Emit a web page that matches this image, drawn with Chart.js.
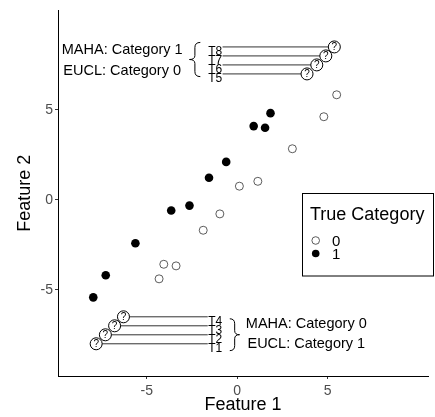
<!DOCTYPE html>
<html>
<head>
<meta charset="utf-8">
<script src="https://cdn.jsdelivr.net/npm/chart.js@4.4.1/dist/chart.umd.min.js"></script>
<style>
  html, body { margin: 0; padding: 0; background: #fff; }
</style>
</head>
<body>
<canvas id="chart" width="435" height="417"></canvas>
<script>
const FONT = "'Liberation Sans', Arial, sans-serif"

// true category 0 (open circles)
const cat0X = [5.50, 4.79, 3.05, 1.14, 0.12, -0.96, -1.88, -4.06, -3.38, -4.32]
const cat0Y = [5.84, 4.62, 2.84, 1.03, 0.76, -0.78, -1.69, -3.58, -3.67, -4.39]
// true category 1 (filled circles)
const cat1X = [1.84, 0.91, 1.54, -0.61, -1.56, -2.64, -3.65, -5.63, -7.27, -7.96]
const cat1Y = [4.82, 4.10, 4.01, 2.11, 1.23, -0.32, -0.59, -2.41, -4.19, -5.42]

// test points (the "?" markers)
const testLabels = ['T1', 'T2', 'T3', 'T4', 'T5', 'T6', 'T7', 'T8']
const testX = [-7.80, -7.29, -6.78, -6.29, 3.86, 4.40, 4.90, 5.37]
const testY = [-8.0, -7.5, -7.0, -6.5, 7.0, 7.5, 8.0, 8.5]
const labelX = -1.22
const segEndX = [-1.63, -1.63, -1.63, -1.63, -0.81, -0.81, -0.81, -0.81]

const tickValues = [-5, 0, 5]
const xRange = [-9.91, 10.55]
const yRange = [-9.79, 10.53]

const groupTexts = [
  { lines: ['MAHA: Category 1', 'EUCL: Category 0'], x: -6.36, y: [8.33, 7.18] },
  { lines: ['MAHA: Category 0', 'EUCL: Category 1'], x: 3.82, y: [-6.91, -8.03] },
]
const legendTitle = 'True Category'
const legendLabels = ['0', '1']

function drawBrace(ctx, xa, xb, y0, y1) {
  // xa: tip side, xb: open side
  const ym = (y0 + y1) / 2
  const xm = (xa + xb) / 2
  ctx.beginPath()
  ctx.moveTo(xb, y0)
  ctx.quadraticCurveTo(xm, y0, xm, y0 + 5)
  ctx.lineTo(xm, ym - 4)
  ctx.quadraticCurveTo(xm, ym, xa, ym)
  ctx.quadraticCurveTo(xm, ym, xm, ym + 4)
  ctx.lineTo(xm, y1 - 5)
  ctx.quadraticCurveTo(xm, y1, xb, y1)
  ctx.stroke()
}

const annotations = {
  id: 'annotations',
  afterDatasetsDraw(chart) {
    const { ctx, scales: { x, y } } = chart
    ctx.save()
    ctx.fillStyle = '#000'
    ctx.strokeStyle = '#000'
    ctx.lineWidth = 1

    // question marks
    ctx.font = `10px ${FONT}`
    ctx.textAlign = 'center'
    ctx.textBaseline = 'middle'
    testX.forEach((v, i) => {
      ctx.fillText('?', x.getPixelForValue(v), y.getPixelForValue(testY[i]) + 0.5)
    })

    // test labels
    ctx.font = `12px ${FONT}`
    ctx.textBaseline = 'alphabetic'
    testLabels.forEach((label, i) => {
      ctx.fillText(label, x.getPixelForValue(labelX), y.getPixelForValue(testY[i]) + 8)
    })

    // braces
    drawBrace(ctx, x.getPixelForValue(-2.64), x.getPixelForValue(-2.04),
      y.getPixelForValue(8.75), y.getPixelForValue(6.85))
    drawBrace(ctx, x.getPixelForValue(0.13), x.getPixelForValue(-0.41),
      y.getPixelForValue(-6.61), y.getPixelForValue(-8.38))

    // group texts
    ctx.font = `14.5px ${FONT}`
    ctx.textBaseline = 'middle'
    groupTexts.forEach((g) => {
      g.lines.forEach((line, i) => {
        ctx.fillText(line, x.getPixelForValue(g.x), y.getPixelForValue(g.y[i]))
      })
    })

    // legend
    ctx.fillStyle = '#fff'
    ctx.fillRect(302.5, 193.5, 131, 82.5)
    ctx.strokeRect(302.5, 193.5, 131, 82.5)
    ctx.fillStyle = '#000'
    ctx.textAlign = 'left'
    ctx.font = `18px ${FONT}`
    ctx.fillText(legendTitle, 310, 215)
    ctx.font = `15px ${FONT}`
    legendLabels.forEach((label, i) => {
      const cy = 240.5 + i * 13
      ctx.beginPath()
      ctx.arc(315.7, cy, 3.8, 0, Math.PI * 2)
      if (i === 0) {
        ctx.lineWidth = 0.8
        ctx.strokeStyle = '#333'
        ctx.stroke()
      } else {
        ctx.fill()
      }
      ctx.fillText(label, 332, cy + 1)
    })
    ctx.restore()
  },
}

const segmentSets = testX.map((v, i) => ({
  data: [{ x: segEndX[i], y: testY[i] }, { x: v, y: testY[i] }],
  showLine: true,
  borderColor: '#333',
  borderWidth: 1,
  pointRadius: 0,
}))

const tickFont = { family: FONT, size: 14 }

new Chart(document.getElementById('chart').getContext('2d'), {
  type: 'scatter',
  data: {
    datasets: [
      {
        data: testX.map((v, i) => ({ x: v, y: testY[i] })),
        backgroundColor: '#fff',
        borderColor: '#000',
        borderWidth: 1,
        pointRadius: 6,
      },
      {
        data: cat1X.map((v, i) => ({ x: v, y: cat1Y[i] })),
        backgroundColor: '#000',
        borderColor: '#000',
        borderWidth: 0,
        pointRadius: 4.3,
      },
      {
        data: cat0X.map((v, i) => ({ x: v, y: cat0Y[i] })),
        backgroundColor: '#fff',
        borderColor: '#333',
        borderWidth: 0.8,
        pointRadius: 4,
      },
      ...segmentSets,
    ],
  },
  options: {
    responsive: false,
    animation: false,
    layout: { padding: 0 },
    plugins: {
      legend: { display: false },
      tooltip: { enabled: false },
    },
    scales: {
      x: {
        min: xRange[0],
        max: xRange[1],
        afterBuildTicks: (scale) => { scale.ticks = tickValues.map((value) => ({ value })) },
        afterFit: (scale) => { scale.height = 41 },
        ticks: { color: '#4d4d4d', font: tickFont, padding: 4, maxRotation: 0 },
        grid: { drawOnChartArea: false, tickLength: 3, tickColor: '#333' },
        border: { color: '#000', width: 1 },
        title: {
          display: true,
          text: 'Feature 1',
          color: '#000',
          font: { family: FONT, size: 18, lineHeight: 1.2 },
          padding: { top: 0, bottom: 1 },
        },
      },
      y: {
        min: yRange[0],
        max: yRange[1],
        afterBuildTicks: (scale) => { scale.ticks = tickValues.map((value) => ({ value })) },
        afterFit: (scale) => { scale.width = 58 },
        ticks: { color: '#4d4d4d', font: tickFont, padding: 2 },
        grid: { drawOnChartArea: false, tickLength: 3, tickColor: '#333' },
        border: { color: '#000', width: 1 },
        title: {
          display: true,
          text: 'Feature 2',
          color: '#000',
          font: { family: FONT, size: 18, lineHeight: 1.2 },
          padding: { top: 14, bottom: 0 },
        },
      },
    },
  },
  plugins: [annotations],
})
</script>
</body>
</html>
